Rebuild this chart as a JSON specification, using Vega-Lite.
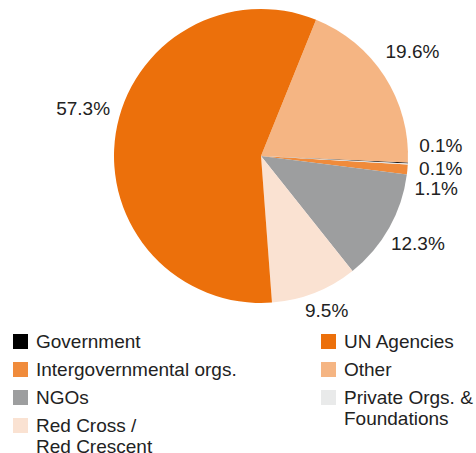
{
  "$schema": "https://vega.github.io/schema/vega-lite/v6.json",
  "width": 430,
  "height": 312,
  "autosize": {"type": "none"},
  "padding": {"left": 46, "top": 0, "right": 0, "bottom": 141},
  "background": "white",
  "config": {"view": {"stroke": null}, "font": "Liberation Sans"},
  "data": {"values": [
    {"category": "Other", "value": 19.6, "label": "19.6%", "rank": 1, "group": "right"},
    {"category": "Government", "value": 0.1, "label": "0.1%", "rank": 2, "group": "left"},
    {"category": "Private Orgs. & Foundations", "value": 0.1, "label": "0.1%", "rank": 3, "group": "right"},
    {"category": "Intergovernmental orgs.", "value": 1.1, "label": "1.1%", "rank": 4, "group": "left"},
    {"category": "NGOs", "value": 12.3, "label": "12.3%", "rank": 5, "group": "left"},
    {"category": "Red Cross / Red Crescent", "value": 9.5, "label": "9.5%", "rank": 6, "group": "left"},
    {"category": "UN Agencies", "value": 57.3, "label": "57.3%", "rank": 7, "group": "right"}
  ]},
  "layer": [
    {
      "transform": [
        {"stack": "value", "groupby": [], "sort": [{"field": "rank", "order": "ascending"}], "as": ["v0", "v1"]},
        {"filter": "datum.group == 'left'"}
      ],
      "mark": {"type": "arc", "outerRadius": 147},
      "encoding": {
        "theta": {"field": "v0", "type": "quantitative", "scale": {"domain": [0, 100], "range": [0.384, 6.667]}},
        "theta2": {"field": "v1"},
        "color": {
          "field": "category", "type": "nominal",
          "scale": {"domain": ["Government", "Intergovernmental orgs.", "NGOs", "Red Cross / Red Crescent"], "range": ["#000000", "#F08B3B", "#9D9E9F", "#FAE2D2"]},
          "legend": {"orient": "none", "legendX": -35, "legendY": 332, "title": null, "symbolType": "square", "symbolSize": 225, "symbolStrokeWidth": 0, "labelFontSize": 19, "labelFont": "Liberation Sans", "labelColor": "#222222", "labelOffset": 6, "rowPadding": 8, "labelLineHeight": 22, "padding": 0, "labelLimit": 400,
            "labelExpr": "datum.label == 'Red Cross / Red Crescent' ? ['Red Cross /', 'Red Crescent'] : datum.label"}
        }
      }
    },
    {
      "transform": [
        {"stack": "value", "groupby": [], "sort": [{"field": "rank", "order": "ascending"}], "as": ["v0", "v1"]},
        {"filter": "datum.group == 'right'"}
      ],
      "mark": {"type": "arc", "outerRadius": 147},
      "encoding": {
        "theta": {"field": "v0", "type": "quantitative"},
        "theta2": {"field": "v1"},
        "fill": {
          "field": "category", "type": "nominal",
          "scale": {"domain": ["UN Agencies", "Other", "Private Orgs. & Foundations"], "range": ["#EC700B", "#F5B583", "#E9EAEA"]},
          "legend": {"orient": "none", "legendX": 273, "legendY": 332, "title": null, "symbolType": "square", "symbolSize": 225, "symbolStrokeWidth": 0, "labelFontSize": 19, "labelFont": "Liberation Sans", "labelColor": "#222222", "labelOffset": 6, "rowPadding": 8, "labelLineHeight": 22, "padding": 0, "labelLimit": 400,
            "labelExpr": "datum.label == 'Private Orgs. & Foundations' ? ['Private Orgs. &', 'Foundations'] : datum.label"}
        }
      }
    },
    {
      "mark": {"type": "text", "radius": 180, "fontSize": 19, "color": "#222222", "align": "center", "baseline": "middle"},
      "encoding": {
        "theta": {"field": "value", "type": "quantitative", "stack": true},
        "order": {"field": "rank", "type": "quantitative"},
        "text": {"condition": {"test": "datum.category == 'NGOs'", "field": "label"}, "value": ""}
      }
    },
    {
      "mark": {"type": "text", "radius": 180, "dy": -13, "fontSize": 19, "color": "#222222", "align": "center", "baseline": "middle"},
      "encoding": {
        "theta": {"field": "value", "type": "quantitative", "stack": true},
        "order": {"field": "rank", "type": "quantitative"},
        "text": {"condition": {"test": "datum.category == 'Red Cross / Red Crescent'", "field": "label"}, "value": ""}
      }
    },
    {
      "mark": {"type": "text", "radius": 180, "dy": -7, "fontSize": 19, "color": "#222222", "align": "center", "baseline": "middle"},
      "encoding": {
        "theta": {"field": "value", "type": "quantitative", "stack": true},
        "order": {"field": "rank", "type": "quantitative"},
        "text": {"condition": {"test": "datum.category == 'Other'", "field": "label"}, "value": ""}
      }
    },
    {
      "mark": {"type": "text", "radius": 180, "dy": -19, "fontSize": 19, "color": "#222222", "align": "center", "baseline": "middle"},
      "encoding": {
        "theta": {"field": "value", "type": "quantitative", "stack": true},
        "order": {"field": "rank", "type": "quantitative"},
        "text": {"condition": {"test": "datum.category == 'UN Agencies' || datum.category == 'Government'", "field": "label"}, "value": ""}
      }
    },
    {
      "mark": {"type": "text", "radius": 180, "dy": 3, "fontSize": 19, "color": "#222222", "align": "center", "baseline": "middle"},
      "encoding": {
        "theta": {"field": "value", "type": "quantitative", "stack": true},
        "order": {"field": "rank", "type": "quantitative"},
        "text": {"condition": {"test": "datum.category == 'Private Orgs. & Foundations'", "field": "label"}, "value": ""}
      }
    },
    {
      "mark": {"type": "text", "radius": 180, "dy": 17, "dx": -4, "fontSize": 19, "color": "#222222", "align": "center", "baseline": "middle"},
      "encoding": {
        "theta": {"field": "value", "type": "quantitative", "stack": true},
        "order": {"field": "rank", "type": "quantitative"},
        "text": {"condition": {"test": "datum.category == 'Intergovernmental orgs.'", "field": "label"}, "value": ""}
      }
    }
  ]
}
